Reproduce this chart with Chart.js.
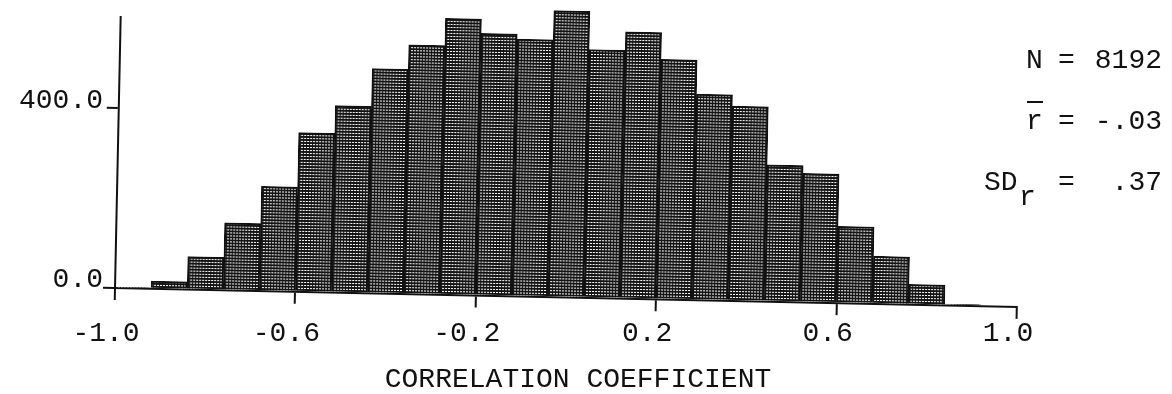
<!DOCTYPE html>
<html lang="en">
  <head>
    <meta charset="UTF-8" />
    <title>Correlation coefficient histogram</title>
    <script src="https://cdn.jsdelivr.net/npm/chart.js"></script>
    <style>
      html,
      body {
        margin: 0;
        padding: 0;
        background: #ffffff;
      }
      #box {
        width: 1172px;
        height: 394px;
      }
    </style>
  </head>
  <body>
    <div id="box"><canvas id="histo" width="1172" height="394"></canvas></div>
    <script>
      // bins of width .08 between -1 and 1
      var binCenters = [
        -0.96, -0.88, -0.8, -0.72, -0.64, -0.56, -0.48, -0.4, -0.32, -0.24,
        -0.16, -0.08, 0.0, 0.08, 0.16, 0.24, 0.32, 0.4, 0.48, 0.56, 0.64, 0.72,
        0.8, 0.88, 0.96,
      ];
      var counts = [
        2, 17, 73, 150, 233, 354, 416, 500, 554, 615, 583, 572, 637, 552, 593,
        534, 458, 433, 304, 287, 171, 106, 45, 3, 0,
      ];
      var xTicks = [-1.0, -0.6, -0.2, 0.2, 0.6, 1.0];
      var yTicks = [0, 400];
      var statNames = ["N", "r", "SD"];
      var statValues = ["8192", "-.03", ".37"];
      var axisTitle = "CORRELATION COEFFICIENT";

      var FONT = '"Liberation Mono", "DejaVu Sans Mono", monospace';
      var INK = "#111111";
      var TILT = (1.2 * Math.PI) / 180; // the plotted part sits a little crooked on the page

      // dense cross hatch used to shade the bars
      function hatch() {
        var c = document.createElement("canvas");
        c.width = 6;
        c.height = 3;
        var g = c.getContext("2d");
        g.fillStyle = "#ffffff";
        g.fillRect(0, 0, 6, 3);
        g.fillStyle = "#141414";
        g.fillRect(0, 0, 6, 2);
        g.fillRect(0, 0, 1, 3);
        g.fillRect(3, 2, 1, 1);
        return g.createPattern(c, "repeat");
      }

      // rotate axes lines and bars around the origin; labels are drawn later, straight
      var tilt = {
        id: "tilt",
        beforeDraw: function (chart) {
          var ctx = chart.ctx;
          var a = chart.chartArea;
          ctx.save();
          ctx.translate(a.left, a.bottom);
          ctx.rotate(TILT);
          ctx.translate(-a.left, -a.bottom);
        },
        afterDatasetsDraw: function (chart) {
          chart.ctx.restore();
        },
      };

      var notes = {
        id: "notes",
        afterDraw: function (chart) {
          var ctx = chart.ctx;
          ctx.save();
          ctx.fillStyle = INK;
          ctx.font = "28px " + FONT;
          ctx.textBaseline = "alphabetic";

          ctx.textAlign = "center";
          ctx.fillText(axisTitle, 578, 387);

          var rows = [68, 129, 190];
          for (var i = 0; i < statNames.length; i++) {
            var y = rows[i];
            ctx.textAlign = "left";
            if (statNames[i] == "SD") {
              ctx.fillText("SD", 984, y);
              ctx.fillText("r", 1019, y + 15);
            } else {
              ctx.fillText(statNames[i], 1026, y);
            }
            if (statNames[i] == "r") {
              ctx.fillRect(1027, 101, 16, 2); // bar over the r
            }
            ctx.fillText("=", 1058, y);
            ctx.textAlign = "right";
            ctx.fillText(statValues[i], 1162, y);
          }
          ctx.restore();
        },
      };

      var axisLine = { color: INK, width: 2 };
      var tickLines = {
        drawOnChartArea: false,
        drawTicks: true,
        tickLength: 12,
        offset: false,
        color: INK,
        lineWidth: 2,
      };

      new Chart(document.getElementById("histo"), {
        type: "bar",
        data: {
          datasets: [
            {
              data: binCenters.map(function (c, i) {
                return { x: c, y: counts[i] };
              }),
              backgroundColor: hatch(),
              borderColor: INK,
              borderWidth: 2,
              barPercentage: 1,
              categoryPercentage: 1,
              clip: false,
            },
          ],
        },
        options: {
          responsive: false,
          animation: false,
          layout: { padding: { top: 16, right: 155, left: 0, bottom: 0 } },
          plugins: {
            legend: { display: false },
            tooltip: { enabled: false },
          },
          scales: {
            x: {
              type: "linear",
              min: -1,
              max: 1,
              offset: false,
              afterBuildTicks: function (s) {
                s.ticks = xTicks.map(function (v) {
                  return { value: v };
                });
              },
              afterFit: function (s) {
                s.height = 106;
              },
              grid: tickLines,
              border: axisLine,
              ticks: {
                z: 1,
                autoSkip: false,
                maxRotation: 0,
                padding: 17,
                labelOffset: -9,
                color: INK,
                font: { family: FONT, size: 28 },
                callback: function (v) {
                  return v.toFixed(1);
                },
              },
            },
            y: {
              min: 0,
              max: 603,
              afterBuildTicks: function (s) {
                s.ticks = yTicks.map(function (v) {
                  return { value: v };
                });
              },
              afterFit: function (s) {
                s.width = 115;
              },
              grid: tickLines,
              border: axisLine,
              ticks: {
                z: 1,
                autoSkip: false,
                padding: 0,
                labelOffset: -8,
                color: INK,
                font: { family: FONT, size: 28 },
                callback: function (v) {
                  return v.toFixed(1);
                },
              },
            },
          },
        },
        plugins: [tilt, notes],
      });
    </script>
  </body>
</html>
